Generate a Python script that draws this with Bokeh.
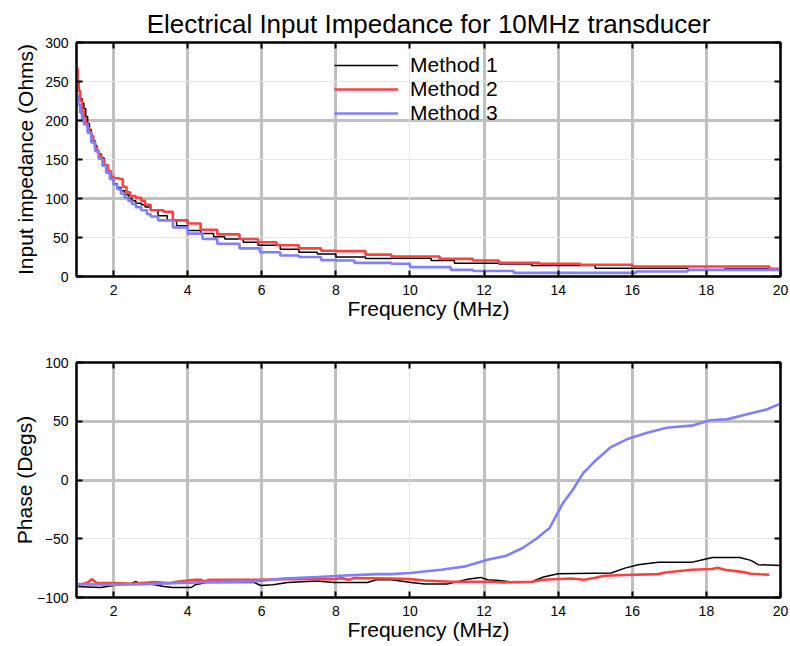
from bokeh.plotting import figure
from bokeh.models import FixedTicker, Grid, LinearAxis, Legend, LegendItem, Range1d
from bokeh.layouts import column
from bokeh.embed import file_html
from bokeh.resources import INLINE

# ---------------- data ----------------
TITLE = "Electrical Input Impedance for 10MHz transducer"
x_ticks = [2, 4, 6, 8, 10, 12, 14, 16, 18, 20]

m1_z_f = [1.0, 1.05, 1.1, 1.15, 1.2, 1.25, 1.3, 1.35, 1.4, 1.45, 1.5, 1.55, 1.6, 1.67, 1.75, 1.85, 1.93, 2.0,
          2.1, 2.2, 2.3, 2.4, 2.5, 2.6, 2.75, 2.85, 3.0, 3.2, 3.45, 3.7, 4.0, 4.35, 4.7, 5.0,
          5.5, 5.9, 6.5, 7.0, 7.5, 8.0, 8.8, 9.5, 10.57, 11.2, 12.4, 13.28, 15.0, 17.5, 18.5, 20.0]
m1_z = [245, 238, 228, 222, 215, 205, 196, 188, 180, 174, 168, 162, 157, 152, 143, 134, 126, 119,
        114, 110, 105, 100, 97, 94, 92, 89, 85, 78, 72, 65, 59, 55, 51, 48,
        44, 40, 35, 31, 29, 25, 23, 23.5, 20.5, 17, 16, 14, 10.7, 8.5, 10, 10]

m2_z_f = [1.0, 1.03, 1.06, 1.1, 1.15, 1.2, 1.25, 1.3, 1.35, 1.4, 1.45, 1.5, 1.55, 1.6, 1.67, 1.75, 1.85, 1.93,
          2.0, 2.15, 2.25, 2.35, 2.45, 2.6, 2.75, 2.85, 3.0, 3.35, 3.6, 4.0, 4.35, 4.8,
          5.4, 5.9, 6.4, 7.0, 7.6, 8.0, 8.8, 9.5, 10.8, 11.7, 12.4, 13.5, 14.6, 16.0, 19.7, 20.0]
m2_z = [267, 250, 238, 225, 212, 203, 196, 190, 185, 180, 172, 165, 160, 155, 150, 143, 135, 128,
        126, 125, 115, 108, 103, 101, 97, 92, 85, 83, 72, 68, 60, 54,
        48, 44, 40, 36, 33, 32.5, 28, 25.6, 22.6, 20.5, 17.5, 16.3, 15, 12.8, 10, 10]

m3_z_f = [1.0, 1.05, 1.1, 1.15, 1.2, 1.3, 1.4, 1.5, 1.6, 1.7, 1.8, 1.9, 2.0, 2.1, 2.2, 2.3, 2.4, 2.5, 2.6,
          2.75, 2.9, 3.0, 3.2, 3.6, 4.0, 4.4, 4.8, 5.4, 5.95, 6.5, 7.0, 7.6, 8.0,
          8.5, 9.5, 10.0, 11.1, 11.7, 12.8, 16.1, 17.5, 18.0, 20.0]
m3_z = [232, 220, 210, 202, 195, 184, 172, 161, 151, 142, 133, 125, 118, 112, 106, 101, 97, 93, 89,
        85, 80, 77, 72, 63, 55, 48, 42, 36, 31, 27, 25, 21, 20.5,
        17.5, 16.3, 12, 8.5, 7, 4.7, 6.5, 8.5, 8.5, 8.5]

m1_p_f = [1.0, 1.65, 2.0, 2.5, 2.6, 2.7, 3.0, 3.36, 3.6, 4.1, 4.2, 4.5, 5.25, 5.8, 5.97, 6.3, 6.7, 7.5, 7.95,
          8.85, 9.1, 9.5, 10.03, 10.4, 11.0, 11.56, 11.9, 12.1, 12.4, 12.9, 13.3, 13.6, 14.0, 15.43, 15.8,
          16.16, 16.7, 17.6, 17.9, 18.16, 18.9, 19.2, 19.4, 20.0]
m1_p = [-90.6, -91.5, -89.8, -87.8, -86.3, -88.0, -88.6, -90.6, -91.5, -91.5, -89.2, -87.2, -87.2, -87.2,
        -89.8, -89.2, -87.2, -86.0, -87.2, -87.2, -84.9, -84.9, -87.2, -88.6, -88.6, -84.4, -82.9, -84.9,
        -85.5, -87.2, -86.3, -82.6, -79.8, -79.2, -75.0, -72.1, -70.1, -70.1, -67.8, -65.9, -65.9, -68.4,
        -72.1, -72.7]

m2_p_f = [1.0, 1.3, 1.42, 1.55, 2.0, 2.5, 3.1, 3.5, 3.7, 4.2, 4.35, 4.45, 4.6, 6.0, 6.6, 7.95, 8.15, 8.35,
          8.5, 9.5, 10.0, 10.4, 11.1, 12.2, 12.5, 13.3, 13.6, 14.35, 14.7, 15.0, 15.25, 15.8, 16.7, 16.9,
          17.6, 18.16, 18.3, 18.5, 19.0, 19.2, 19.7]
m2_p = [-90.0, -87.2, -84.4, -87.8, -87.8, -88.3, -86.9, -87.8, -86.6, -84.9, -84.9, -86.3, -84.9, -84.9,
        -84.4, -84.4, -83.5, -84.9, -83.5, -83.8, -84.4, -85.5, -86.6, -86.6, -87.2, -86.6, -84.9, -83.8,
        -84.9, -83.2, -81.5, -80.9, -80.1, -78.7, -76.4, -75.8, -74.7, -76.4, -78.4, -79.8, -80.6]

m3_p_f = [1.0, 2.0, 2.9, 3.6, 4.5, 5.8, 6.6, 7.5, 8.1, 9.1, 9.5, 10.0, 10.84, 11.5, 12.1, 12.6, 13.04, 13.4,
          13.77, 14.13, 14.4, 14.68, 15.04, 15.4, 15.85, 16.4, 16.93, 17.65, 18.1, 18.55, 19.1, 19.64, 20.0]
m3_p = [-88.6, -89.2, -88.6, -87.8, -86.9, -86.3, -83.8, -82.6, -81.5, -80.1, -80.1, -79.2, -76.4, -73.5,
        -67.8, -64.4, -57.9, -50.2, -40.8, -19.5, -8.1, 6.1, 17.5, 27.5, 34.6, 40.3, 44.5, 46.5, 50.8,
        51.6, 55.9, 60.2, 65.0]

labels = ["Method 1", "Method 2", "Method 3"]
colors = ["#000000", "#ff4040", "#8080ff"]
widths = [1.5, 2.6, 2.6]

FONT = "Liberation Sans"


def style(p, y_ticks, y_thick, y_thin, ylabel, ylabel_standoff):
    p.outline_line_color = "black"
    p.outline_line_width = 2
    p.xaxis.ticker = FixedTicker(ticks=x_ticks)
    p.yaxis.ticker = FixedTicker(ticks=y_ticks)
    for ax in p.xaxis + p.yaxis:
        ax.axis_line_width = 2
        ax.major_tick_in = 6
        ax.major_tick_out = 0
        ax.major_tick_line_width = 2
        ax.minor_tick_line_color = None
        ax.major_label_text_font = FONT
        ax.major_label_text_font_size = "14px"
        ax.major_label_text_color = "black"
        ax.axis_label_text_font = FONT
        ax.axis_label_text_font_size = "21px"
        ax.axis_label_text_font_style = "normal"
        ax.axis_label_text_color = "black"
    p.xaxis.axis_label = "Frequency (MHz)"
    p.xaxis.major_label_standoff = 8
    p.xaxis.axis_label_standoff = -1
    p.yaxis.axis_label = ylabel
    p.yaxis.major_label_standoff = 8
    p.yaxis.axis_label_standoff = ylabel_standoff
    # grid
    p.xgrid.ticker = FixedTicker(ticks=[2, 4, 6, 8, 12, 14, 16, 18])
    p.ygrid.ticker = FixedTicker(ticks=y_thick)
    for g in p.xgrid + p.ygrid:
        g.grid_line_color = "#c0c0c0"
        g.grid_line_width = 3
    p.add_layout(Grid(dimension=0, ticker=FixedTicker(ticks=[10]), grid_line_color="#e6e6e6", grid_line_width=1))
    p.add_layout(Grid(dimension=1, ticker=FixedTicker(ticks=y_thin), grid_line_color="#e6e6e6", grid_line_width=1))
    # mirrored axes with inward ticks (no labels)
    top = LinearAxis(ticker=FixedTicker(ticks=x_ticks), major_tick_in=6, major_tick_out=0, major_tick_line_width=2,
                     axis_line_width=2, major_label_text_color=None, major_label_text_font_size="1px",
                     major_label_standoff=0, minor_tick_line_color=None)
    right = LinearAxis(ticker=FixedTicker(ticks=y_ticks), major_tick_in=6, major_tick_out=0, major_tick_line_width=2,
                       axis_line_width=2, major_label_text_color=None, major_label_text_font_size="1px",
                       major_label_standoff=0, minor_tick_line_color=None)
    p.add_layout(top, "above")
    p.add_layout(right, "right")


p1 = figure(width=790, height=323, frame_width=704, frame_height=234, min_border_left=76, min_border_right=10,
            min_border_top=42, min_border_bottom=47, x_range=Range1d(1, 20), y_range=Range1d(0, 300),
            output_backend="svg", toolbar_location=None, title=TITLE)
p1.title.text_font = FONT
p1.title.text_font_size = "26px"
p1.title.text_font_style = "normal"
p1.title.align = "center"
p1.title.text_color = "black"
p1.title.offset = 0
p1.title.standoff = 7
style(p1, [0, 50, 100, 150, 200, 250, 300], [100, 200], [50, 150, 250], "Input impedance (Ohms)", 5)

r_top = []
for fx, fy, c, w in zip([m1_z_f, m2_z_f, m3_z_f], [m1_z, m2_z, m3_z], colors, widths):
    r_top.append(p1.step(fx, fy, mode="after", line_color=c, line_width=w))

legend = Legend(items=[LegendItem(label=l, renderers=[r]) for l, r in zip(labels, r_top)],
                location=(258, 151), glyph_width=64, glyph_height=20, label_standoff=12, spacing=0,
                padding=0, margin=0, border_line_color=None, background_fill_alpha=0,
                label_text_font=FONT, label_text_font_size="21px", label_text_color="black")
p1.add_layout(legend, "center")

p2 = figure(width=790, height=323, frame_width=704, frame_height=235, min_border_left=76, min_border_right=10,
            min_border_top=39, min_border_bottom=48, x_range=Range1d(1, 20), y_range=Range1d(-100, 100),
            output_backend="svg", toolbar_location=None)
style(p2, [-100, -50, 0, 50, 100], [0, 50], [-50], "Phase (Degs)", -2)
for fx, fy, c, w in zip([m1_p_f, m2_p_f, m3_p_f], [m1_p, m2_p, m3_p], colors, widths):
    p2.line(fx, fy, line_color=c, line_width=w)

layout = column(p1, p2, spacing=0)
open("out.html", "w").write(file_html(layout, INLINE))
